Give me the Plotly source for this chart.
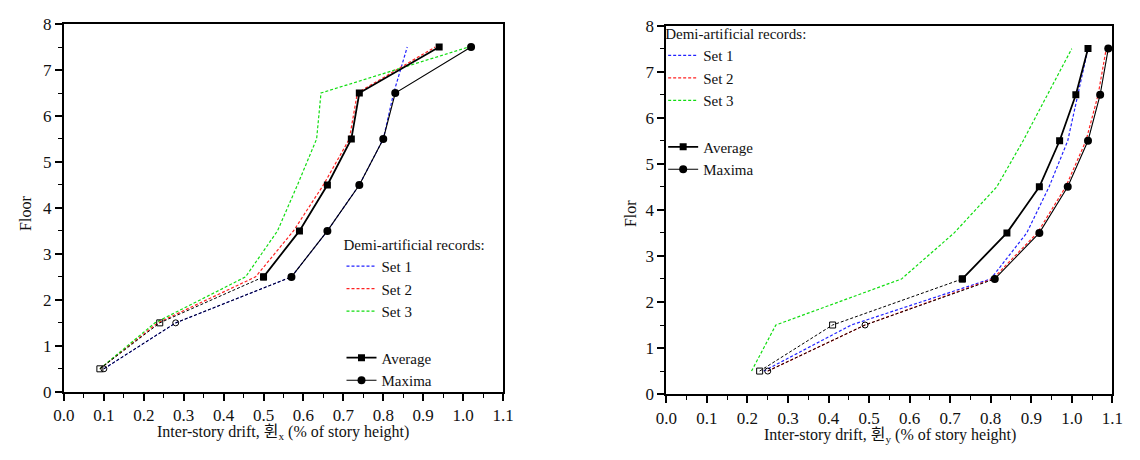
import plotly.graph_objects as go

# ---------------- data ----------------
floors = [0.5, 1.5, 2.5, 3.5, 4.5, 5.5, 6.5, 7.5]

# Left panel: drift in x direction
x_set1 = [0.10, 0.28, 0.57, 0.66, 0.74, 0.80, 0.826, 0.86]
x_set2 = [0.09, 0.235, 0.48, 0.575, 0.65, 0.715, 0.735, 0.93]
x_set3 = [0.09, 0.228, 0.455, 0.535, 0.585, 0.633, 0.644, 1.014]
x_avg = [0.09, 0.24, 0.50, 0.59, 0.66, 0.72, 0.74, 0.94]
x_max = [0.10, 0.28, 0.57, 0.66, 0.74, 0.80, 0.83, 1.02]

# Right panel: drift in y direction
y_set1 = [0.24, 0.456, 0.80, 0.889, 0.944, 0.99, 1.015, 1.04]
y_set2 = [0.25, 0.49, 0.805, 0.915, 0.985, 1.035, 1.065, 1.085]
y_set3 = [0.21, 0.27, 0.58, 0.71, 0.815, 0.88, 0.94, 1.00]
y_avg = [0.23, 0.41, 0.73, 0.84, 0.92, 0.97, 1.01, 1.04]
y_max = [0.25, 0.49, 0.81, 0.92, 0.99, 1.04, 1.07, 1.09]

set_names = ["Set 1", "Set 2", "Set 3"]
set_colors = ["#2222ff", "#ff2222", "#11dd11"]
x_ticks = [0.0, 0.1, 0.2, 0.3, 0.4, 0.5, 0.6, 0.7, 0.8, 0.9, 1.0, 1.1]
y_ticks = [0, 1, 2, 3, 4, 5, 6, 7, 8]

FONT = "Liberation Serif, Times New Roman, Noto Sans CJK KR, serif"
DASH = "3px,2px"
TXT = "#111"

fig = go.Figure()


def add_panel(xa, ya, legend, sets, avg, mx):
    for name, col, vals in zip(set_names, set_colors, sets):
        fig.add_trace(go.Scatter(
            x=vals, y=floors, mode="lines", name=name,
            line=dict(color=col, width=1.2, dash=DASH),
            xaxis=xa, yaxis=ya, legend=legend, legendgroup=legend + "sets"))
    # lower (dashed, open markers) parts
    fig.add_trace(go.Scatter(
        x=avg[:3], y=floors[:3], mode="lines+markers", showlegend=False,
        line=dict(color="black", width=1, dash=DASH),
        marker=dict(symbol="square-open", size=6, color="black", line=dict(width=1)),
        xaxis=xa, yaxis=ya, legend=legend))
    fig.add_trace(go.Scatter(
        x=mx[:3], y=floors[:3], mode="lines+markers", showlegend=False,
        line=dict(color="black", width=1, dash=DASH),
        marker=dict(symbol="circle-open", size=6, color="black", line=dict(width=1)),
        xaxis=xa, yaxis=ya, legend=legend))
    # upper (solid) parts
    fig.add_trace(go.Scatter(
        x=avg[2:], y=floors[2:], mode="lines+markers", name="Average",
        line=dict(color="black", width=1.8),
        marker=dict(symbol="square", size=7, color="black"),
        xaxis=xa, yaxis=ya, legend=legend, legendgroup=legend + "stats"))
    fig.add_trace(go.Scatter(
        x=mx[2:], y=floors[2:], mode="lines+markers", name="Maxima",
        line=dict(color="black", width=1.1),
        marker=dict(symbol="circle", size=8, color="black"),
        xaxis=xa, yaxis=ya, legend=legend, legendgroup=legend + "stats"))


add_panel("x", "y", "legend", [x_set1, x_set2, x_set3], x_avg, x_max)
add_panel("x2", "y2", "legend2", [y_set1, y_set2, y_set3], y_avg, y_max)

W, H = 1140, 460


def xax(dom):
    return dict(domain=dom, range=[0, 1.1], tickvals=x_ticks, tickformat=".1f",
                ticks="outside", ticklen=7, tickwidth=1.5, tickcolor="black",
                showline=True, linecolor="black", linewidth=2, mirror=True,
                showgrid=False, zeroline=False,
                tickfont=dict(family=FONT, size=17, color=TXT),
                minor=dict(dtick=0.05, ticks="outside", ticklen=4, tickwidth=1.2,
                           tickcolor="black", showgrid=False))


def yax(dom, anchor):
    return dict(domain=dom, range=[0, 8], tickvals=y_ticks, anchor=anchor,
                ticks="outside", ticklen=7, tickwidth=1.5, tickcolor="black",
                showline=True, linecolor="black", linewidth=2, mirror=True,
                showgrid=False, zeroline=False,
                tickfont=dict(family=FONT, size=17, color=TXT),
                minor=dict(dtick=0.5, ticks="outside", ticklen=4, tickwidth=1.2,
                           tickcolor="black", showgrid=False))


def leg(x, y):
    return dict(x=x, y=y, xanchor="left", yanchor="top", bgcolor="rgba(0,0,0,0)",
                borderwidth=0, traceorder="grouped", tracegroupgap=24,
                font=dict(family=FONT, size=15, color=TXT),
                title=dict(text="Demi-artificial records:",
                           font=dict(family=FONT, size=15, color=TXT)),
                itemwidth=30)


def ann(text, x, y, size=16, angle=0):
    return dict(text=text, x=x / W, y=1 - y / H, xref="paper", yref="paper",
                xanchor="center", yanchor="middle", textangle=angle,
                showarrow=False, font=dict(family=FONT, size=size, color=TXT))


fig.update_layout(
    width=W, height=H, margin=dict(l=0, r=0, t=0, b=0),
    paper_bgcolor="white", plot_bgcolor="white",
    xaxis=xax([54 / W, 501.7 / W]) | dict(anchor="y"),
    yaxis=yax([1 - 399.3 / H, 1 - 15.7 / H], "x"),
    xaxis2=xax([668.3 / W, 1123 / W]) | dict(anchor="y2"),
    yaxis2=yax([1 - 401.7 / H, 1 - 17.3 / H], "x2"),
    legend=leg(337 / W, 1 - 231 / H),
    legend2=leg(665 / W, 1 - 11 / H),
    annotations=[
        ann("Inter-story drift, 휜<sub>x</sub> (% of story height)", 277, 442),
        ann("Inter-story drift, 휜<sub>y</sub> (% of story height)", 896, 445),
        ann("Floor", 14, 213, angle=-90),
        ann("Flor", 631, 213, angle=-90),
    ],
)

fig.write_html("out.html")
